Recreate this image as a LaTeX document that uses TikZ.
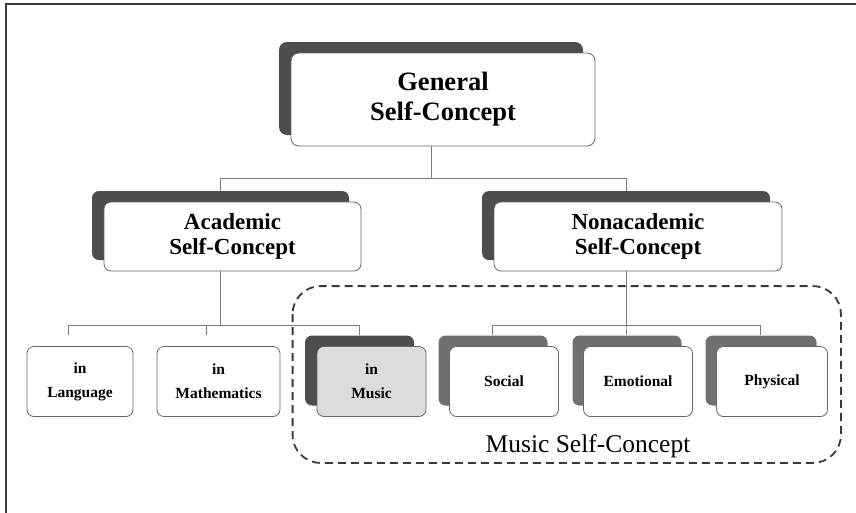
\documentclass[tikz,border=0pt]{standalone}
\usepackage{fontspec}
\setmainfont{Liberation Serif}
\usepackage{tikz}
\usetikzlibrary{shadows}

\definecolor{shadedark}{HTML}{4D4D4D}
\definecolor{shademid}{HTML}{707070}
\definecolor{musicfill}{HTML}{DCDCDC}
\definecolor{boxline}{HTML}{666666}
\definecolor{linegray}{HTML}{7A7A7A}
\definecolor{framegray}{HTML}{3A3A3A}

\tikzset{
    darkshade/.style={general shadow={fill=shadedark, shadow xshift=-12pt, shadow yshift=11pt}},
    midshade/.style={general shadow={fill=shademid, shadow xshift=-11pt, shadow yshift=11pt}},
    genbox/.style={draw=boxline, fill=white, line width=0.8pt, rounded corners=8pt, align=center,
        minimum width=304pt, minimum height=93pt, darkshade,
        font=\bfseries\fontsize{26.5}{30}\selectfont},
    midbox/.style={draw=boxline, fill=white, line width=0.8pt, rounded corners=7pt, align=center,
        minimum height=69pt, darkshade,
        font=\bfseries\fontsize{23}{25}\selectfont},
    lowbox/.style={draw=boxline, fill=white, line width=0.8pt, rounded corners=7pt, align=center,
        minimum width=109pt, minimum height=70pt,
        font=\bfseries\fontsize{15.5}{24}\selectfont},
    musicbox/.style={lowbox, fill=musicfill, darkshade},
    sidebox/.style={lowbox, midshade},
    groupline/.style={draw=framegray, line width=1.8pt, dash pattern=on 8pt off 5pt, rounded corners=28pt},
    grouplabel/.style={font=\fontsize{25.5}{28}\selectfont},
    frame/.style={draw=framegray, line width=2.2pt}
}

\begin{document}
\begin{tikzpicture}[x=1pt, y=1pt]
    \useasboundingbox (0,0) rectangle (856,-512);
    \draw[frame] (6,-513) |- (857,-4);

    \node[genbox] (gen) at (443,-99.5) {General\\Self-Concept}
    [edge from parent/.style={draw=linegray, line width=0.8pt}]
    [level 1/.style={sibling distance=405.5pt, level distance=137pt,
        edge from parent path={([xshift=-12pt]\tikzparentnode.south) -- ++(0,-32pt) -| ([xshift=-12pt,yshift=11pt]\tikzchildnode.north)}}]
    [level 2/.style={sibling distance=134pt, level distance=145pt,
        edge from parent path={([xshift=-12pt]\tikzparentnode.south) -- ++(0,-54pt) -| ([xshift=-12pt,yshift=11pt]\tikzchildnode.north)}}]
    child[xshift=-7.75pt]
    {
        node[midbox, minimum width=257pt] (acad) {Academic\\Self-Concept}
        child[xshift=-18.5pt] {node[lowbox, minimum width=106pt] (lang) {in\\Language}}
        child[xshift=-14pt] {node[lowbox, minimum width=123pt] (math) {in\\Mathematics}}
        child[xshift=5pt] {node[musicbox] (music) {in\\Music}}
    }
    child[xshift=-7.75pt]
    {
        node[midbox, minimum width=288pt] (nonac) {Nonacademic\\Self-Concept}
        child {node[sidebox] (social) {Social}}
        child {node[sidebox] (emot) {Emotional}}
        child {node[sidebox, minimum width=111pt] (phys) {Physical}}
    };

    % music group
    \draw[groupline] ([xshift=-24pt,yshift=60pt]music.north west) rectangle ([xshift=13pt,yshift=-46pt]phys.south east);
    \node[grouplabel] (mlabel) at ([xshift=-50pt,yshift=-29pt]emot.south) {Music Self-Concept};
\end{tikzpicture}
\end{document}
